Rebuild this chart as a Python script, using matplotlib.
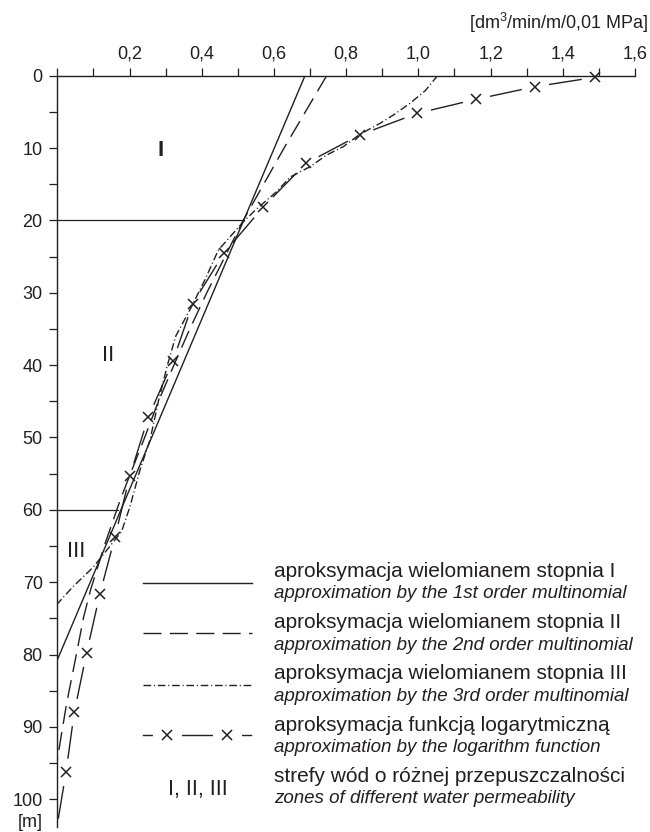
import matplotlib
matplotlib.use("Agg")
import matplotlib.pyplot as plt

plt.rcParams['font.family'] = ['Liberation Sans', 'DejaVu Sans']
plt.rcParams['mathtext.fontset'] = 'custom'
plt.rcParams['mathtext.rm'] = 'Liberation Sans'
plt.rcParams['mathtext.it'] = 'Liberation Sans:italic'

ink = '#231f20'

# conductivity [dm3/min/m/0,01 MPa] against depth [m]
lin_depth = [0.0, 80.75]
lin_k = [0.686, 0.0]

quad_depth = [0, 10, 20, 30, 35, 40, 45, 50, 58.4, 65, 71.1, 74.8, 80.7, 86.7, 91.8, 94.6]
quad_k = [0.746, 0.628, 0.515, 0.414, 0.367, 0.323, 0.280, 0.242, 0.176, 0.130, 0.092, 0.073,
          0.050, 0.026, 0.009, 0.0]

cub_depth = [0, 2.07, 3.81, 5.43, 6.58, 8.1, 9.81, 10.96, 12.58, 14.0, 16.0, 17.2, 18.6, 20.2,
             24.1, 28.2, 31.9, 36.0, 40.0, 45.0, 50.3, 54.5, 59.6, 63.0, 67.9, 70.6, 73.0]
cub_k = [1.053, 1.019, 0.977, 0.931, 0.894, 0.838, 0.792, 0.746, 0.700, 0.645, 0.608, 0.580,
         0.548, 0.515, 0.446, 0.409, 0.372, 0.328, 0.305, 0.280, 0.257, 0.229, 0.201, 0.178,
         0.100, 0.044, 0.0]

# logarithmic fit: sample points (marked with x) plus the end of the curve
log_depth = [0.22, 1.52, 3.26, 5.2, 8.2, 12.11, 18.1, 24.5, 31.5, 39.5, 47.2, 55.3, 63.7,
             71.6, 79.8, 88.0, 96.3, 102.6]
log_k = [1.489, 1.323, 1.160, 0.997, 0.837, 0.689, 0.571, 0.462, 0.375, 0.320, 0.252, 0.201,
         0.160, 0.118, 0.081, 0.047, 0.024, 0.003]

zone_depth = [20, 60]
zone_k = [0.517, 0.169]
zone_names = ['I', 'II', 'III']
zone_label_k = [0.286, 0.142, 0.052]
zone_label_depth = [10.3, 38.7, 65.8]

x_tick_values = [i / 10 for i in range(17)]
x_tick_labels = ['', '', '0,2', '', '0,4', '', '0,6', '', '0,8', '', '1,0', '', '1,2', '',
                 '1,4', '', '1,6']
y_tick_values = list(range(0, 101, 5))
y_tick_labels = [str(v) if v % 10 == 0 else '' for v in y_tick_values]

legend_pl = ['aproksymacja wielomianem stopnia I',
             'aproksymacja wielomianem stopnia II',
             'aproksymacja wielomianem stopnia III',
             'aproksymacja funkcją logarytmiczną',
             'strefy wód o różnej przepuszczalności']
legend_en = ['approximation by the 1st order multinomial',
             'approximation by the 2nd order multinomial',
             'approximation by the 3rd order multinomial',
             'approximation by the logarithm function',
             'zones of different water permeability']

dash_style = (0, (13, 6))
dashdot_style = (0, (5.5, 2.0, 0.8, 2.0))

fig = plt.figure(figsize=(6.5, 8.32), dpi=100)
ax = fig.add_axes([0.08815, 0.00637, 0.88877, 0.90264])
ax.set_xlim(0, 1.6)
ax.set_ylim(103.8, 0)

ax.xaxis.tick_top()
for side in ['right', 'bottom']:
    ax.spines[side].set_visible(False)
for side in ['top', 'left']:
    ax.spines[side].set_linewidth(1.0)
    ax.spines[side].set_color(ink)

ax.set_xticks(x_tick_values)
ax.set_xticklabels(x_tick_labels)
ax.set_yticks(y_tick_values)
ax.set_yticklabels(y_tick_labels)
ax.tick_params(axis='x', direction='out', length=5.8, width=0.9, pad=4, labelsize=13,
               colors=ink)
ax.tick_params(axis='y', direction='out', length=5.8, width=0.9, pad=4.7, labelsize=13,
               colors=ink)

# log curve: a continuous line broken around each x mark
ax.plot(log_k, log_depth, '-', color=ink, lw=1.0, zorder=2)
ax.plot(log_k[:-1], log_depth[:-1], 'o', ms=20, mfc='white', mec='none', zorder=2.1)
ax.plot(log_k[:-1], log_depth[:-1], 'x', ms=6.5, mew=1.1, color=ink, zorder=2.2, clip_on=False)

ax.plot(lin_k, lin_depth, '-', color=ink, lw=1.0, zorder=3)
ax.plot(quad_k, quad_depth, linestyle=dash_style, color=ink, lw=1.0, zorder=3)
ax.plot(cub_k, cub_depth, linestyle=dashdot_style, color=ink, lw=1.0, zorder=3)

for d, k in zip(zone_depth, zone_k):
    ax.plot([0, k], [d, d], '-', color=ink, lw=0.9, zorder=3)
for name, k, d in zip(zone_names, zone_label_k, zone_label_depth):
    ax.text(k, d, name, ha='center', va='center', fontsize=16, color=ink,
            fontweight='bold' if name == 'I' else 'normal')

# overlay in pixel units for the legend and axis units
lg = fig.add_axes([0, 0, 1, 1])
lg.set_xlim(0, 650)
lg.set_ylim(832, 0)
lg.axis('off')
lg.patch.set_visible(False)

lg.text(648, 29, '[dm$^3$/min/m/0,01 MPa]', ha='right', va='baseline', fontsize=13, color=ink)
lg.text(43, 827, '[m]', ha='right', va='baseline', fontsize=13, color=ink)

x0, x1 = 143.3, 251.7
lg.plot([x0, x1], [583.3, 583.3], '-', color=ink, lw=1.0)
lg.plot([x0, x1], [633.3, 633.3], linestyle=dash_style, color=ink, lw=1.0)
lg.plot([x0, x1], [685, 685], linestyle=dashdot_style, color=ink, lw=1.0)
lg.plot([x0, x1 - 1], [735, 735], '-', color=ink, lw=1.0)
lg.plot([167.3, 227.3], [735, 735], 'o', ms=21, mfc='white', mec='none')
lg.plot([167.3, 227.3], [735, 735], 'x', ms=6.5, mew=1.1, color=ink)
lg.text(198.3, 795, 'I, II, III', ha='center', va='baseline', fontsize=15.5, color=ink)

for i, (pl, en) in enumerate(zip(legend_pl, legend_en)):
    base = 576.7 + i * 51.3
    lg.text(274, base, pl, ha='left', va='baseline', fontsize=15, color=ink)
    lg.text(274, base + 21.5, en, ha='left', va='baseline', fontsize=13.5, color=ink,
            style='italic')

fig.savefig('out.png', dpi=100)
